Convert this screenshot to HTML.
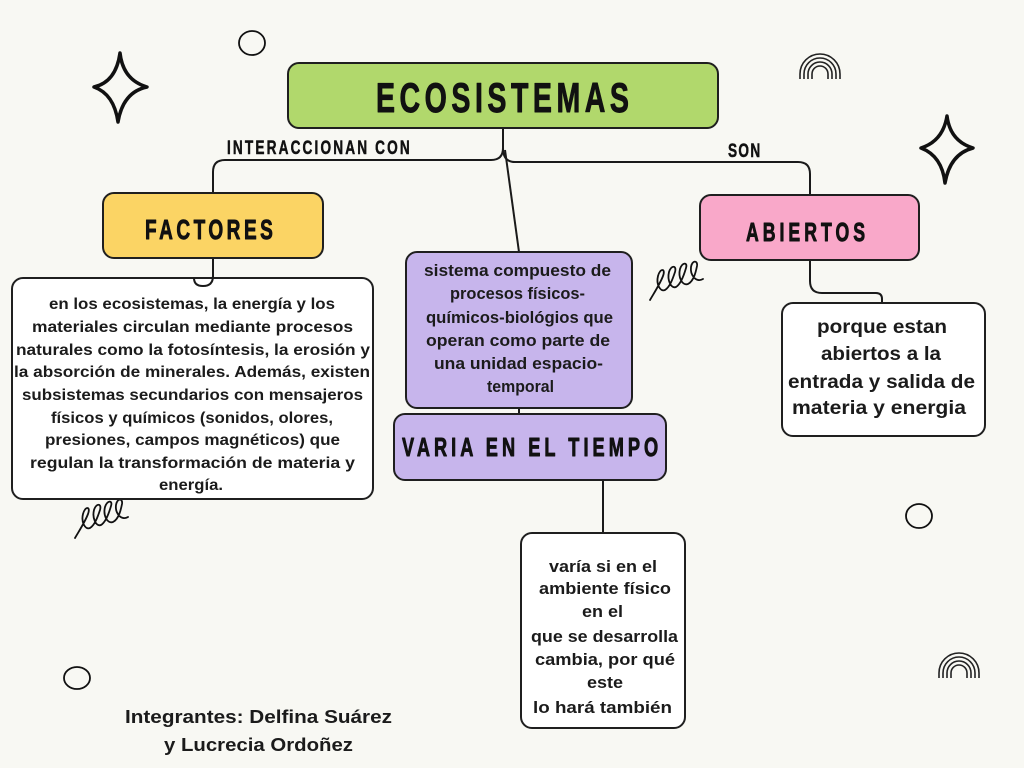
<!DOCTYPE html>
<html>
<head>
<meta charset="utf-8">
<style>
  html,body{margin:0;padding:0;background:#f8f8f3;}
  svg{display:block;}
  .t{font-family:"Liberation Sans", sans-serif;font-weight:bold;fill:#1b1b1b;}
  .h{font-family:"Liberation Sans", sans-serif;font-weight:bold;fill:#111;stroke:#111;stroke-width:0.9;stroke-linejoin:round;}
</style>
</head>
<body>
<svg width="1024" height="768" viewBox="0 0 1024 768" xmlns="http://www.w3.org/2000/svg">
  <rect x="0" y="0" width="1024" height="768" fill="#f8f8f3"/>

  <!-- decorations -->
  <path d="M120,53 Q123,80 147,87 Q123,92 118,122 Q114,94 94,87 Q116,82 120,53 Z" fill="none" stroke="#111" stroke-width="3.5" stroke-linejoin="round"/>
  <path d="M947,116 Q950,141 973,148 Q950,154 945,183 Q942,156 921,148 Q943,141 947,116 Z" fill="none" stroke="#111" stroke-width="3.5" stroke-linejoin="round"/>
  <ellipse cx="252" cy="43" rx="13" ry="12" fill="none" stroke="#111" stroke-width="1.8"/>
  <ellipse cx="77" cy="678" rx="13" ry="11" fill="none" stroke="#111" stroke-width="1.8"/>
  <ellipse cx="919" cy="516" rx="13" ry="12" fill="none" stroke="#111" stroke-width="1.8"/>
  <g fill="none" stroke="#222" stroke-width="1.6">
    <path d="M800,79 V74 A20,20 0 0 1 840,74 V79"/>
    <path d="M804,79 V74 A16,16 0 0 1 836,74 V79"/>
    <path d="M808,79 V74 A12,12 0 0 1 832,74 V79"/>
    <path d="M812,79 V74 A8,8 0 0 1 828,74 V79"/>
    <path d="M939,678 V673 A20,20 0 0 1 979,673 V678"/>
    <path d="M943,678 V673 A16,16 0 0 1 975,673 V678"/>
    <path d="M947,678 V673 A12,12 0 0 1 971,673 V678"/>
    <path d="M951,678 V673 A8,8 0 0 1 967,673 V678"/>
  </g>
  <path d="M650,300 C654,293 660,284 663,276 C666,268 660,268 658,276 C656,284 660,292 665,290 C670,287 673,278 675,272 C677,265 671,265 669,272 C667,280 671,289 676,287 C681,284 684,275 686,268 C688,262 682,262 680,269 C678,277 682,286 688,284 C694,281 696,271 697,266 C698,260 692,260 691,267 C690,275 696,283 703,279" fill="none" stroke="#111" stroke-width="1.8" stroke-linecap="round"/>
  <path transform="translate(-575,238)" d="M650,300 C654,293 660,284 663,276 C666,268 660,268 658,276 C656,284 660,292 665,290 C670,287 673,278 675,272 C677,265 671,265 669,272 C667,280 671,289 676,287 C681,284 684,275 686,268 C688,262 682,262 680,269 C678,277 682,286 688,284 C694,281 696,271 697,266 C698,260 692,260 691,267 C690,275 696,283 703,279" fill="none" stroke="#111" stroke-width="1.8" stroke-linecap="round"/>

  <!-- connectors -->
  <g fill="none" stroke="#1a1a1a" stroke-width="2">
    <path d="M503,128 V148 Q503,160 491,160 H225 Q213,160 213,172 V193"/>
    <path d="M503,148 Q503,162 515,162 H798 Q810,162 810,174 V195"/>
    <path d="M505,150 L519,252"/>
    <path d="M213,258 V276 Q213,286 203,286 Q194,286 194,278"/>
    <path d="M519,408 V414"/>
    <path d="M603,480 V533"/>
    <path d="M810,260 V281 Q810,293 822,293 H876 Q882,293 882,299 V303"/>
  </g>

  <!-- boxes -->
  <g stroke="#1f1f1f" stroke-width="2">
    <rect x="288" y="63" width="430" height="65" rx="11" fill="#b1d86c"/>
    <rect x="103" y="193" width="220" height="65" rx="11" fill="#fbd464"/>
    <rect x="700" y="195" width="219" height="65" rx="11" fill="#f9a8c9"/>
    <rect x="12" y="278" width="361" height="221" rx="11" fill="#ffffff"/>
    <rect x="406" y="252" width="226" height="156" rx="11" fill="#c7b5ec"/>
    <rect x="394" y="414" width="272" height="66" rx="11" fill="#c7b5ec"/>
    <rect x="782" y="303" width="203" height="133" rx="11" fill="#ffffff"/>
    <rect x="521" y="533" width="164" height="195" rx="11" fill="#ffffff"/>
  </g>
  <path d="M213,276 Q213,286 203,286 Q194,286 194,278" fill="none" stroke="#1a1a1a" stroke-width="2"/>

  <!-- handwritten labels -->
  <text class="h" transform="translate(376,112) scale(0.68,1)" x="0" y="0" font-size="42" textLength="372" lengthAdjust="spacing">ECOSISTEMAS</text>
  <text class="h" transform="translate(227,154) scale(0.7,1)" x="0" y="0" font-size="19.5" textLength="261" lengthAdjust="spacing" style="stroke-width:0.5">INTERACCIONAN CON</text>
  <text class="h" transform="translate(728,157) scale(0.7,1)" x="0" y="0" font-size="19.5" textLength="46" lengthAdjust="spacing" style="stroke-width:0.5">SON</text>
  <text class="h" transform="translate(145,239) scale(0.68,1)" x="0" y="0" font-size="28" textLength="188" lengthAdjust="spacing">FACTORES</text>
  <text class="h" transform="translate(746,241) scale(0.68,1)" x="0" y="0" font-size="26" textLength="175" lengthAdjust="spacing">ABIERTOS</text>
  <text class="h" transform="translate(402,456) scale(0.7,1)" x="0" y="0" font-size="26" textLength="366" lengthAdjust="spacing">VARIA EN EL TIEMPO</text>

  <!-- box 1 text -->
  <g class="t" font-size="16">
    <text x="49" y="309" textLength="286" lengthAdjust="spacingAndGlyphs">en los ecosistemas, la energía y los</text>
    <text x="32" y="332" textLength="321" lengthAdjust="spacingAndGlyphs">materiales circulan mediante procesos</text>
    <text x="16" y="355" textLength="354" lengthAdjust="spacingAndGlyphs">naturales como la fotosíntesis, la erosión y</text>
    <text x="14" y="377" textLength="356" lengthAdjust="spacingAndGlyphs">la absorción de minerales. Además, existen</text>
    <text x="22" y="400" textLength="341" lengthAdjust="spacingAndGlyphs">subsistemas secundarios con mensajeros</text>
    <text x="51" y="423" textLength="282" lengthAdjust="spacingAndGlyphs">físicos y químicos (sonidos, olores,</text>
    <text x="45" y="445" textLength="295" lengthAdjust="spacingAndGlyphs">presiones, campos magnéticos) que</text>
    <text x="30" y="468" textLength="325" lengthAdjust="spacingAndGlyphs">regulan la transformación de materia y</text>
    <text x="159" y="490" textLength="64" lengthAdjust="spacingAndGlyphs">energía.</text>
  </g>

  <!-- purple box text -->
  <g class="t" font-size="16.5">
    <text x="424" y="276" textLength="187" lengthAdjust="spacingAndGlyphs">sistema compuesto de</text>
    <text x="450" y="299" textLength="135" lengthAdjust="spacingAndGlyphs">procesos físicos-</text>
    <text x="426" y="323" textLength="187" lengthAdjust="spacingAndGlyphs">químicos-biológios que</text>
    <text x="426" y="346" textLength="184" lengthAdjust="spacingAndGlyphs">operan como parte de</text>
    <text x="434" y="369" textLength="169" lengthAdjust="spacingAndGlyphs">una unidad espacio-</text>
    <text x="487" y="392" textLength="67" lengthAdjust="spacingAndGlyphs">temporal</text>
  </g>

  <!-- box 4 text -->
  <g class="t" font-size="19">
    <text x="817" y="333" textLength="130" lengthAdjust="spacingAndGlyphs">porque estan</text>
    <text x="821" y="360" textLength="120" lengthAdjust="spacingAndGlyphs">abiertos a la</text>
    <text x="788" y="388" textLength="187" lengthAdjust="spacingAndGlyphs">entrada y salida de</text>
    <text x="792" y="414" textLength="174" lengthAdjust="spacingAndGlyphs">materia y energia</text>
  </g>

  <!-- box 3 text -->
  <g class="t" font-size="16.5">
    <text x="549" y="572" textLength="108" lengthAdjust="spacingAndGlyphs">varía si en el</text>
    <text x="539" y="594" textLength="132" lengthAdjust="spacingAndGlyphs">ambiente físico</text>
    <text x="582" y="617" textLength="41" lengthAdjust="spacingAndGlyphs">en el</text>
    <text x="531" y="642" textLength="147" lengthAdjust="spacingAndGlyphs">que se desarrolla</text>
    <text x="535" y="665" textLength="140" lengthAdjust="spacingAndGlyphs">cambia, por qué</text>
    <text x="587" y="688" textLength="36" lengthAdjust="spacingAndGlyphs">este</text>
    <text x="533" y="713" textLength="139" lengthAdjust="spacingAndGlyphs">lo hará también</text>
  </g>

  <!-- footer -->
  <g class="t" font-size="18.5">
    <text x="125" y="723" textLength="267" lengthAdjust="spacingAndGlyphs">Integrantes: Delfina Suárez</text>
    <text x="164" y="751" textLength="189" lengthAdjust="spacingAndGlyphs">y Lucrecia Ordoñez</text>
  </g>
</svg>
</body>
</html>
